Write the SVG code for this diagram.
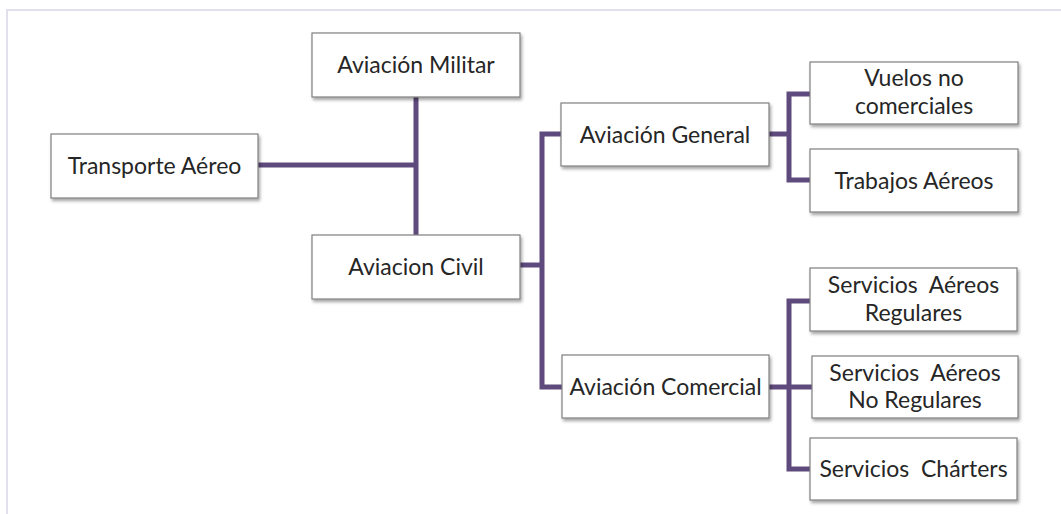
<svg xmlns="http://www.w3.org/2000/svg" width="1061" height="514" viewBox="0 0 1061 514">
<style>
.box{fill:#ffffff;stroke:#7f7f7f;stroke-width:1.2;filter:url(#sh)}
.lbl{font-family:Lato,"Liberation Sans",sans-serif;font-size:23px;fill:#262626;text-anchor:middle}
.con{fill:none;stroke:#5f4a7d;stroke-width:5;stroke-linejoin:miter}
.frame{stroke:#e4dfec;fill:none}
</style>
<defs>
<filter id="sh" x="-10%" y="-20%" width="130%" height="160%">
<feDropShadow dx="1.5" dy="2.5" stdDeviation="1.8" flood-color="#000" flood-opacity="0.35"/>
</filter>
</defs>
<rect width="1061" height="514" fill="#ffffff"/>
<path class="frame" d="M7 514 V10 H1061" stroke-width="2"/>
<g id="connectors">
<path class="con" d="M258 165 H416"/>
<path class="con" d="M416 97 V235"/>
<path class="con" d="M520 265 H542"/>
<path class="con" d="M561 134 H542 V387 H562"/>
<path class="con" d="M769 134 H789"/>
<path class="con" d="M810 94 H789 V180 H810"/>
<path class="con" d="M769 387 H812"/>
<path class="con" d="M810 301 H789 V469 H810"/>
</g>
<g id="transporte">
<rect class="box" x="51" y="134" width="207" height="64"/>
<text class="lbl" x="154.5" y="174">Transporte Aéreo</text>
</g>
<g id="militar">
<rect class="box" x="312" y="33" width="208" height="64"/>
<text class="lbl" x="416" y="73">Aviación Militar</text>
</g>
<g id="civil">
<rect class="box" x="312" y="235" width="208" height="64"/>
<text class="lbl" x="416" y="275">Aviacion Civil</text>
</g>
<g id="general">
<rect class="box" x="561" y="103" width="208" height="63"/>
<text class="lbl" x="665" y="142.5">Aviación General</text>
</g>
<g id="comercial">
<rect class="box" x="562" y="355" width="207" height="63"/>
<text class="lbl" x="665.5" y="394.5">Aviación Comercial</text>
</g>
<g id="vuelos">
<rect class="box" x="810" y="62" width="208" height="62"/>
<text class="lbl" x="914" y="86">Vuelos no</text>
<text class="lbl" x="914" y="114">comerciales</text>
</g>
<g id="trabajos">
<rect class="box" x="810" y="149" width="208" height="63"/>
<text class="lbl" x="914" y="188.5">Trabajos Aéreos</text>
</g>
<g id="regulares">
<rect class="box" x="810" y="268" width="207" height="63"/>
<text class="lbl" x="913.5" y="293" xml:space="preserve">Servicios  Aéreos</text>
<text class="lbl" x="913.5" y="321">Regulares</text>
</g>
<g id="noregulares">
<rect class="box" x="812" y="356" width="206" height="62"/>
<text class="lbl" x="915" y="381" xml:space="preserve">Servicios  Aéreos</text>
<text class="lbl" x="915" y="408">No Regulares</text>
</g>
<g id="charters">
<rect class="box" x="810" y="438" width="207" height="62"/>
<text class="lbl" x="913.5" y="477" xml:space="preserve">Servicios  Chárters</text>
</g>
</svg>
